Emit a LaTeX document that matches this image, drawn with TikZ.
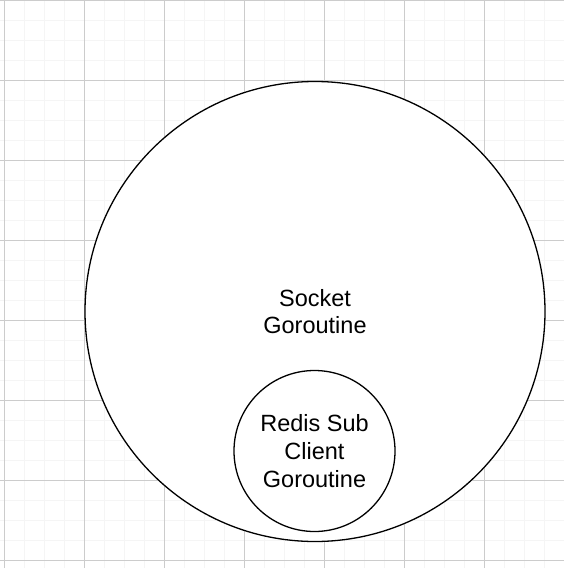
\documentclass[tikz,border=0pt]{standalone}
\usepackage{fontspec}
\setmainfont{Liberation Sans}
\usepackage{tikz}

\begin{document}
\begin{tikzpicture}[x=1pt,y=-1pt]
	\useasboundingbox (0,0) rectangle (564,568);
	% grid
	\foreach \x in {4,24,...,564} \draw[color=black!4, line width=1pt] (\x,0) -- (\x,568);
	\foreach \y in {0,20,...,568} \draw[color=black!4, line width=1pt] (0,\y) -- (564,\y);
	\foreach \x in {4,84,...,564} \draw[color=black!20, line width=1pt] (\x,0) -- (\x,568);
	\foreach \y in {0,80,...,568} \draw[color=black!20, line width=1pt] (0,\y) -- (564,\y);
	\tikzset{gor/.style={draw, circle, fill=white, line width=1.3pt, inner sep=0pt, align=center, font=\fontsize{23.5}{27.8}\selectfont}}
	\node[gor, minimum size=460pt] at (315,311.5)(sock){Socket\\Goroutine};
	\node[gor, minimum size=161pt] at (314.5,451)(redis){Redis Sub\\Client\\Goroutine};
\end{tikzpicture}
\end{document}
